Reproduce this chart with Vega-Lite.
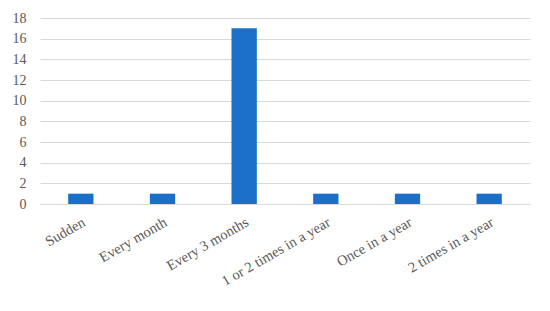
{
  "$schema": "https://vega.github.io/schema/vega-lite/v6.json",
  "autosize": {"type": "none"},
  "width": 490,
  "height": 186,
  "padding": {"left": 40, "top": 18, "right": 20, "bottom": 107},
  "background": "white",
  "data": {"values": [
    {"category": "Sudden", "count": 1},
    {"category": "Every month", "count": 1},
    {"category": "Every 3 months", "count": 17},
    {"category": "1 or 2 times in a year", "count": 1},
    {"category": "Once in a year", "count": 1},
    {"category": "2 times in a year", "count": 1}
  ]},
  "mark": {"type": "bar", "color": "#1a70c8"},
  "encoding": {
    "x": {
      "field": "category", "type": "nominal", "sort": null, "title": null,
      "scale": {"paddingInner": 0.69, "paddingOuter": 0.345},
      "axis": {
        "labelAngle": -30, "labelAlign": "right", "labelBaseline": "top",
        "labelFont": "Liberation Serif", "labelFontSize": 14.5, "labelColor": "#595959",
        "ticks": false, "domainColor": "#d9d9d9", "domainWidth": 1, "labelPadding": 11,
        "labelLimit": 200
      }
    },
    "y": {
      "field": "count", "type": "quantitative", "title": null,
      "scale": {"domain": [0, 18]},
      "axis": {
        "values": [0, 2, 4, 6, 8, 10, 12, 14, 16, 18],
        "domain": false, "ticks": false, "labelPadding": 14,
        "labelFont": "Liberation Serif", "labelFontSize": 14, "labelColor": "#595959",
        "gridColor": "#d9d9d9", "gridWidth": 1
      }
    }
  },
  "config": {"view": {"stroke": null}}
}
